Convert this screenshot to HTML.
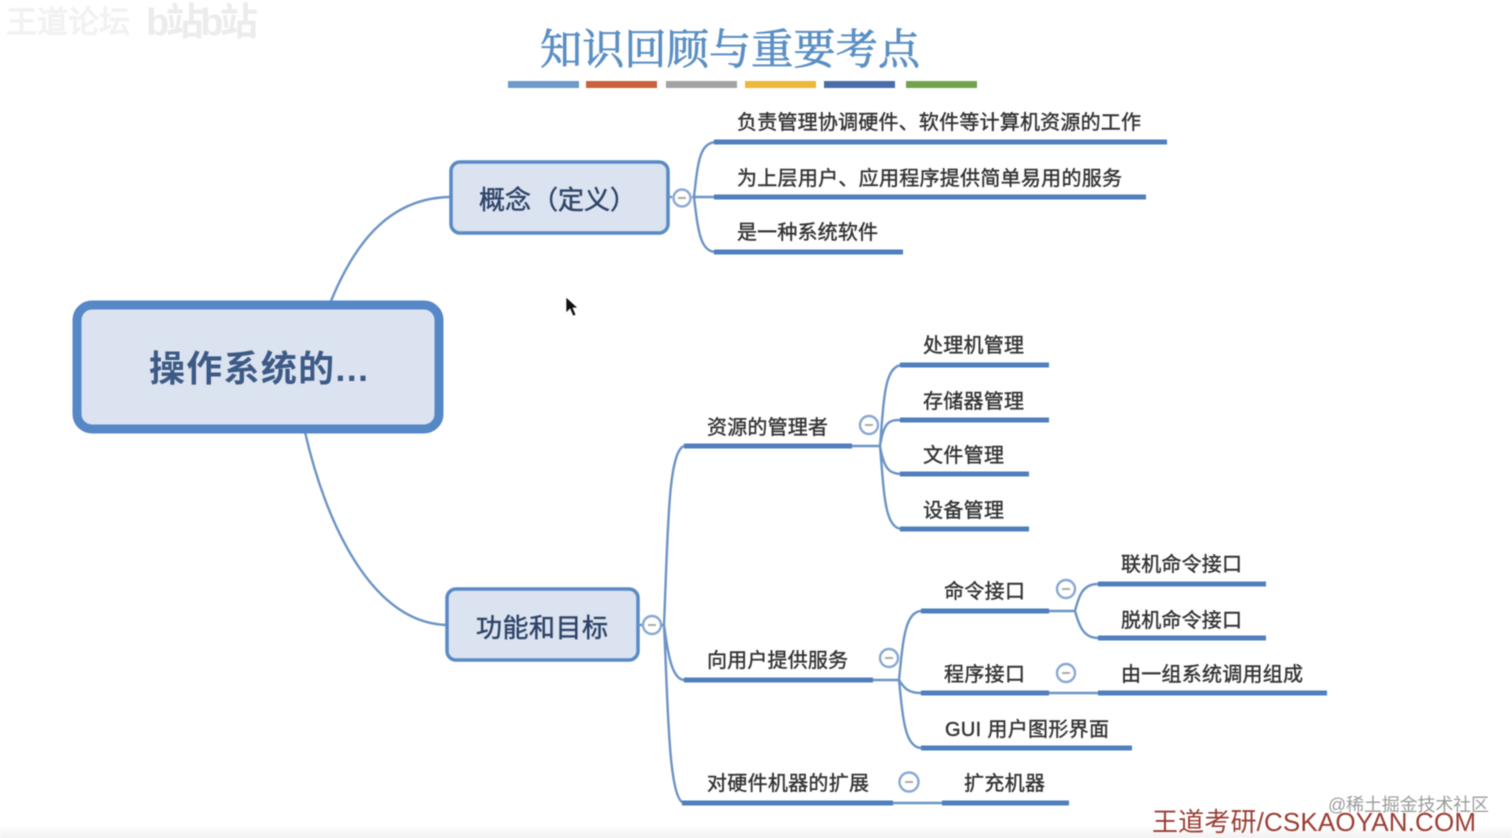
<!DOCTYPE html>
<html><head><meta charset="utf-8"><style>
html,body{margin:0;padding:0;background:#fff;width:1512px;height:838px;overflow:hidden}
svg{display:block;filter:blur(.55px)}
text{font-family:"Liberation Sans","Noto Sans CJK SC",sans-serif;fill:#333}
.c{fill:none;stroke:#6c94c6;stroke-width:2.4}
.u{fill:none;stroke:#4f7fbd;stroke-width:5}
.t{font-size:20px;stroke:#333;stroke-width:.4}
</style></head><body>
<svg width="1512" height="838" viewBox="0 0 1512 838" xmlns="http://www.w3.org/2000/svg">
<defs><linearGradient id="g" x1="0" y1="0" x2="0" y2="1"><stop offset="0" stop-color="#fff"/><stop offset="1" stop-color="#f1f1f1"/></linearGradient></defs>
<rect width="1512" height="838" fill="#fff"/>
<rect x="0" y="826" width="1512" height="12" fill="url(#g)"/>
<text x="6" y="33" font-size="31" style="fill:#f2f2f2;stroke:#f2f2f2;stroke-width:1.2">王道论坛</text>
<text x="146" y="35" font-size="38" font-weight="700" style="fill:#ececec" textLength="112">b站b站</text>
<text x="540" y="64" font-size="42" style="font-family:'Liberation Serif','Noto Serif CJK SC',serif;fill:#5b8fc4;stroke:#5b8fc4;stroke-width:.8" textLength="380">知识回顾与重要考点</text>
<g>
<rect x="508" y="81" width="71" height="7" fill="#6c9bc9"/>
<rect x="586" y="81" width="71" height="7" fill="#c9623a"/>
<rect x="666" y="81" width="71" height="7" fill="#a3a3a3"/>
<rect x="745" y="81" width="71" height="7" fill="#efb63c"/>
<rect x="824" y="81" width="71" height="7" fill="#4a6cab"/>
<rect x="906" y="81" width="71" height="7" fill="#72a24c"/>
</g>

<!-- main curves -->
<path class="c" d="M331 301C352 250 385 198 450 197"/>
<path class="c" d="M305 432C325 520 370 622 446 625"/>

<!-- central -->
<rect x="77" y="305" width="362" height="124" rx="15" fill="#dbe3f0" stroke="#5687c6" stroke-width="9"/>
<text x="149" y="381" font-size="36" font-weight="700" style="fill:#3d5a86" textLength="219">操作系统的...</text>

<!-- concept -->
<rect x="451" y="162" width="217" height="71" rx="9" fill="#dbe3f0" stroke="#5a8ac6" stroke-width="3.5"/>
<text x="479 505 532 558 584 610" y="209" font-size="26" style="fill:#2f4468;stroke:#2f4468;stroke-width:.5">概念（定义）</text>
<path class="c" d="M668 197H672M692 197H716"/>
<circle cx="682" cy="198" r="8.5" fill="#fff" stroke="#8aa8d2" stroke-width="2.4"/>
<path d="M678 198H686" stroke="#aaa" stroke-width="2"/>
<path class="c" d="M694 197C698 160 700 143 716 142M694 197C698 230 700 252 716 252"/>
<path class="u" d="M714 142H1167M714 197H1146M714 252H903"/>
<text class="t" x="737" y="129" textLength="404">负责管理协调硬件、软件等计算机资源的工作</text>
<text class="t" x="737" y="185" textLength="385">为上层用户、应用程序提供简单易用的服务</text>
<text class="t" x="737" y="239" textLength="141">是一种系统软件</text>

<!-- function -->
<rect x="447" y="589" width="191" height="71" rx="9" fill="#dbe3f0" stroke="#5a8ac6" stroke-width="3.5"/>
<text x="476" y="637" font-size="26" style="fill:#2f4468;stroke:#2f4468;stroke-width:.5" textLength="132">功能和目标</text>
<path class="c" d="M638 625H643"/>
<circle cx="652" cy="625" r="9" fill="#fff" stroke="#8aa8d2" stroke-width="2.4"/>
<path d="M648 625H656" stroke="#aaa" stroke-width="2"/>
<path class="c" d="M661 625H664"/>
<path class="c" d="M664 625C668 530 668 452 684 446M664 625C668 655 672 679 684 680M664 625C668 700 668 800 684 803"/>

<!-- level 2 underlines -->
<path class="u" d="M684 446H852M684 680H873M682 803H893"/>
<text class="t" x="707" y="434" textLength="121">资源的管理者</text>
<text class="t" x="707" y="667" textLength="141">向用户提供服务</text>
<text class="t" x="707" y="790" textLength="162">对硬件机器的扩展</text>

<circle cx="869" cy="425" r="9" fill="#fff" stroke="#8aa8d2" stroke-width="2.4"/><path d="M865 425H873" stroke="#aaa" stroke-width="2"/>
<circle cx="889" cy="658" r="9" fill="#fff" stroke="#8aa8d2" stroke-width="2.4"/><path d="M885 658H893" stroke="#aaa" stroke-width="2"/>
<circle cx="909" cy="782" r="9.5" fill="#fff" stroke="#8aa8d2" stroke-width="2.4"/><path d="M905 782H913" stroke="#aaa" stroke-width="2"/>

<!-- resource -->
<path class="c" d="M852 446H881"/>
<path class="c" d="M880 446C884 400 884 366 902 365M880 446C884 420 890 420 902 420M880 446C884 470 890 474 902 474M880 446C884 490 884 529 902 529"/>
<path class="u" d="M900 365H1049M900 420H1049M900 474H1029M900 529H1029"/>
<text class="t" x="923" y="352" textLength="101">处理机管理</text>
<text class="t" x="923" y="408" textLength="101">存储器管理</text>
<text class="t" x="923" y="462" textLength="81">文件管理</text>
<text class="t" x="923" y="517" textLength="81">设备管理</text>

<!-- service -->
<path class="c" d="M873 680H900"/>
<path class="c" d="M899 680C903 640 905 612 921 611M899 680C904 688 908 693 921 693M899 680C903 720 905 747 921 748"/>
<path class="u" d="M921 611H1049M921 693H1049M921 748H1132"/>
<text class="t" x="944" y="598" textLength="81">命令接口</text>
<text class="t" x="944" y="681" textLength="81">程序接口</text>
<text class="t" x="945" y="736" textLength="164">GUI 用户图形界面</text>
<circle cx="1066" cy="589" r="9" fill="#fff" stroke="#8aa8d2" stroke-width="2.4"/><path d="M1062 589H1070" stroke="#aaa" stroke-width="2"/>
<circle cx="1066" cy="673" r="9" fill="#fff" stroke="#8aa8d2" stroke-width="2.4"/><path d="M1062 673H1070" stroke="#aaa" stroke-width="2"/>

<path class="c" d="M1049 611H1076M1049 693H1098"/>
<path class="c" d="M1075 611C1079 595 1083 584 1098 584M1075 611C1079 625 1083 638 1098 638"/>
<path class="u" d="M1098 584H1266M1098 638H1266M1098 693H1327"/>
<text class="t" x="1121" y="571" textLength="121">联机命令接口</text>
<text class="t" x="1121" y="627" textLength="121">脱机命令接口</text>
<text class="t" x="1121" y="681" textLength="182">由一组系统调用组成</text>

<!-- hardware -->
<path class="c" d="M893 803H942"/>
<path class="u" d="M942 803H1069"/>
<text class="t" x="964" y="790" textLength="81">扩充机器</text>

<!-- cursor -->
<path d="M566 297V313L570 309L573 316L576 315L573 308L578 308Z" fill="#111" stroke="#fff" stroke-width=".7"/>

<!-- watermarks -->
<text x="1152" y="831" font-size="26" style="fill:#9a3d33" textLength="324">王道考研/CSKAOYAN.COM</text>
<text x="1328" y="811" font-size="18" style="fill:#9b9b9b" textLength="161">@稀土掘金技术社区</text>
</svg>
</body></html>
